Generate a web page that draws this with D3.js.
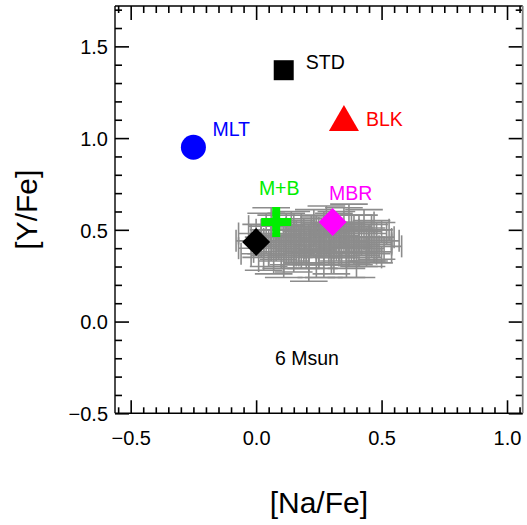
<!DOCTYPE html>
<html>
<head>
<meta charset="utf-8">
<script src="https://cdn.jsdelivr.net/npm/d3@7"></script>
<style>
  html, body { margin: 0; padding: 0; background: #fff; }
  svg { display: block; font-family: "Liberation Sans", Arial, Helvetica, sans-serif; }
</style>
</head>
<body>
<svg id="chart" width="527" height="525"></svg>
<script>
// ---------- data ----------
const xTicks = [-0.5, 0.0, 0.5, 1.0];
const xTickLabels = ["\u22120.5", "0.0", "0.5", "1.0"];
const yTicks = [-0.5, 0.0, 0.5, 1.0, 1.5];
const yTickLabels = ["\u22120.5", "0.0", "0.5", "1.0", "1.5"];

// observed stars: [Na/Fe], [Y/Fe], errors
const starX  = [0.02,0.05,0.08,0.10,0.12,0.14,0.15,0.17,0.19,0.20,0.22,0.24,0.25,0.27,0.29,0.30,0.32,0.33,0.35,0.36,0.38,0.39,0.41,0.42,0.44,0.45,0.47,0.06,0.11,0.21,0.28,0.37,0.43,0.03,0.16,0.26,0.34,0.40,0.23,0.13,
                0.04,0.09,0.18,0.31,0.46,0.35,0.27,0.12,0.39,0.22,0.44,0.07,0.33,0.19,0.41,0.29,0.15,0.36,0.25,0.48];
const starY  = [0.44,0.40,0.47,0.38,0.44,0.50,0.36,0.42,0.47,0.39,0.44,0.36,0.48,0.41,0.45,0.38,0.50,0.42,0.46,0.37,0.43,0.49,0.40,0.45,0.38,0.43,0.41,0.52,0.33,0.32,0.53,0.54,0.50,0.37,0.46,0.44,0.40,0.35,0.51,0.41,
                0.48,0.43,0.39,0.47,0.46,0.52,0.36,0.50,0.41,0.47,0.42,0.36,0.44,0.43,0.48,0.40,0.45,0.41,0.38,0.44];
const starEX = [0.10,0.12,0.10,0.11,0.09,0.12,0.10,0.11,0.10,0.12,0.10,0.09,0.11,0.10,0.12,0.10,0.09,0.11,0.10,0.12,0.10,0.11,0.10,0.12,0.10,0.09,0.11,0.09,0.10,0.10,0.10,0.10,0.10,0.09,0.10,0.10,0.10,0.10,0.11,0.10,
                0.11,0.10,0.12,0.10,0.09,0.11,0.10,0.12,0.10,0.11,0.10,0.09,0.12,0.10,0.11,0.10,0.12,0.10,0.11,0.09];
const starEY = [0.09,0.10,0.11,0.09,0.08,0.10,0.09,0.11,0.09,0.10,0.08,0.12,0.09,0.10,0.09,0.12,0.10,0.09,0.08,0.13,0.11,0.09,0.10,0.09,0.08,0.10,0.09,0.10,0.09,0.10,0.10,0.10,0.11,0.09,0.09,0.09,0.09,0.11,0.10,0.10,
                0.11,0.09,0.10,0.12,0.09,0.10,0.12,0.09,0.10,0.11,0.09,0.10,0.09,0.11,0.10,0.09,0.10,0.12,0.09,0.10];

// model predictions
const modelNames  = ["STD", "MLT", "BLK", "M+B", "MBR", "base"];
const modelX      = [0.11, -0.25, 0.35, 0.08, 0.305, 0.0];
const modelY      = [1.37, 0.95, 1.11, 0.543, 0.543, 0.434];
const modelColors = ["#000000", "#0000ff", "#ff0000", "#00ee00", "#ff00ff", "#000000"];
const modelShapes = ["square", "circle", "triangle", "plus", "diamond", "diamond"];
const modelLabels = ["STD", "MLT", "BLK", "M+B", "MBR", ""];

const massLabel = "6 Msun";
const xTitle = "[Na/Fe]";
const yTitle = "[Y/Fe]";

// ---------- layout ----------
const svg = d3.select("#chart");
const L = 115, R = 522.7, T = 6, B = 413.3;
const x = d3.scaleLinear().domain([-0.5625, 1.0625]).range([L, R]);
const y = d3.scaleLinear().domain([-0.5, 1.72]).range([B, T]);

const gray = "#8c8c8c";

// ---------- error bars ----------
const eb = svg.append("g").attr("stroke", gray).attr("stroke-width", 1.6).attr("fill", "none");
const hatY = 0.06, hatX = 0.075;
starX.forEach((sx, i) => {
  const sy = starY[i], ex = starEX[i], ey = starEY[i];
  eb.append("line").attr("x1", x(sx - ex)).attr("x2", x(sx + ex)).attr("y1", y(sy)).attr("y2", y(sy));
  [sx - ex, sx + ex].forEach(hx => eb.append("line").attr("x1", x(hx)).attr("x2", x(hx)).attr("y1", y(sy - hatY)).attr("y2", y(sy + hatY)));
  eb.append("line").attr("x1", x(sx)).attr("x2", x(sx)).attr("y1", y(sy - ey)).attr("y2", y(sy + ey));
  [sy - ey, sy + ey].forEach(hy => eb.append("line").attr("x1", x(sx - hatX)).attr("x2", x(sx + hatX)).attr("y1", y(hy)).attr("y2", y(hy)));
});

// ---------- markers ----------
function shapePath(shape) {
  switch (shape) {
    case "square": return "M-10,-10H10V10H-10Z";
    case "circle": return d3.symbol().type(d3.symbolCircle).size(Math.PI * 12.5 * 12.5)();
    case "triangle": return "M0,-13L15,13L-15,13Z";
    case "plus": return "M-4,-15H4V-4H15V4H4V15H-4V4H-15V-4H-4Z";
    case "diamond": return "M0,-14L14,0L0,14L-14,0Z";
  }
}
const mk = svg.append("g");
modelNames.forEach((n, i) => {
  mk.append("path")
    .attr("d", shapePath(modelShapes[i]))
    .attr("transform", `translate(${x(modelX[i])},${y(modelY[i])})`)
    .attr("fill", modelColors[i]);
});

const labelOffsets = { "STD": [22, -1, "start"], "MLT": [19, -11.5, "start"], "BLK": [22, 8, "start"], "M+B": [3, -26.5, "middle"], "MBR": [18, -21.5, "middle"] };
modelNames.forEach((n, i) => {
  if (!modelLabels[i]) return;
  const o = labelOffsets[modelLabels[i]];
  svg.append("text")
    .attr("x", x(modelX[i]) + o[0]).attr("y", y(modelY[i]) + o[1])
    .attr("text-anchor", o[2])
    .attr("font-size", 19.5).attr("fill", modelColors[i])
    .text(modelLabels[i]);
});

svg.append("text").attr("x", 275).attr("y", 365).attr("font-size", 19.5).attr("fill", "#000").text(massLabel);

// ---------- axes ----------
const xMinor = d3.range(-0.55, 1.06, 0.05).map(v => +v.toFixed(2)).filter(v => v >= -0.5625 && v <= 1.0625 && !xTicks.some(t => Math.abs(t - v) < 1e-6));
const yMinor = d3.range(-0.5, 1.72, 0.1).map(v => +v.toFixed(2)).filter(v => !yTicks.some(t => Math.abs(t - v) < 1e-6));

function styleAxis(g) {
  g.select(".domain").remove();
  g.selectAll(".tick line").attr("stroke", "#000").attr("stroke-width", 1.6);
}
svg.append("g").attr("transform", `translate(0,${B})`)
  .call(d3.axisBottom(x).tickValues(xTicks).tickSize(-13).tickFormat((d, i) => xTickLabels[i]).tickPadding(0))
  .call(styleAxis)
  .call(g => g.selectAll(".tick text").attr("font-size", 20).attr("fill", "#000").attr("font-family", "Liberation Sans, Arial, sans-serif").attr("y", 31.5).attr("dy", 0));
svg.append("g").attr("transform", `translate(0,${B})`)
  .call(d3.axisBottom(x).tickValues(xMinor).tickSize(-6).tickFormat(""))
  .call(styleAxis);
svg.append("g").attr("transform", `translate(0,${T})`)
  .call(d3.axisTop(x).tickValues(xTicks).tickSize(-14).tickFormat(""))
  .call(styleAxis);
svg.append("g").attr("transform", `translate(0,${T})`)
  .call(d3.axisTop(x).tickValues(xMinor).tickSize(-7).tickFormat(""))
  .call(styleAxis);
svg.append("g").attr("transform", `translate(${L},0)`)
  .call(d3.axisLeft(y).tickValues(yTicks).tickSize(-14).tickFormat((d, i) => yTickLabels[i]).tickPadding(0))
  .call(styleAxis)
  .call(g => g.selectAll(".tick text").attr("font-size", 20).attr("fill", "#000").attr("font-family", "Liberation Sans, Arial, sans-serif").attr("x", -7).attr("dy", "0.36em"));
svg.append("g").attr("transform", `translate(${L},0)`)
  .call(d3.axisLeft(y).tickValues(yMinor).tickSize(-7).tickFormat(""))
  .call(styleAxis);
svg.append("g").attr("transform", `translate(${R},0)`)
  .call(d3.axisRight(y).tickValues(yTicks).tickSize(-14).tickFormat(""))
  .call(styleAxis);
svg.append("g").attr("transform", `translate(${R},0)`)
  .call(d3.axisRight(y).tickValues(yMinor).tickSize(-7).tickFormat(""))
  .call(styleAxis);

svg.append("line").attr("x1", L).attr("x2", R).attr("y1", T).attr("y2", T).attr("stroke", "#000").attr("stroke-width", 1.4);
svg.append("line").attr("x1", L).attr("x2", R).attr("y1", B).attr("y2", B).attr("stroke", "#000").attr("stroke-width", 1.4);
svg.append("line").attr("x1", L).attr("x2", L).attr("y1", T).attr("y2", B).attr("stroke", "#000").attr("stroke-width", 1.4);
svg.append("line").attr("x1", R).attr("x2", R).attr("y1", T).attr("y2", B).attr("stroke", "#808080").attr("stroke-width", 1.8);

svg.append("text").attr("x", (L + R) / 2).attr("y", 513).attr("text-anchor", "middle").attr("font-size", 30).attr("fill", "#000").text(xTitle);
svg.append("text").attr("transform", `translate(37,${(T + B) / 2}) rotate(-90)`).attr("text-anchor", "middle").attr("font-size", 30).attr("fill", "#000").text(yTitle);
</script>
</body>
</html>
